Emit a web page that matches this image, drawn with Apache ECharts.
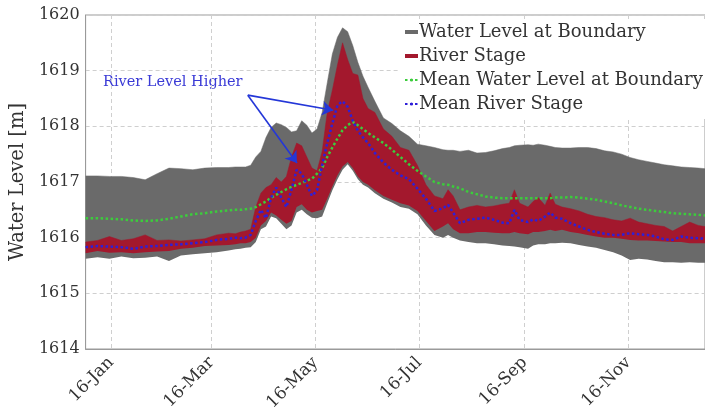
<!DOCTYPE html>
<html>
<head>
<meta charset="utf-8">
<script src="https://cdn.jsdelivr.net/npm/echarts@6/dist/echarts.min.js"></script>
<style>html,body{margin:0;padding:0;background:#fff;}#c{width:705px;height:414px;}</style>
</head>
<body>
<div id="c"></div>
<script>
// Day of year (Jan 1 = 0)
var days = [0,7,14,21,28,35,42,49,56,63,70,77,84,88,91,94,97,100,103,106,109,112,115,118,121,124,127,130,133,136,139,142,145,148,151,154,157,160,163,166,170,175,180,185,190,195,200,205,210,213,216,220,225,230,235,240,245,249,252,255,260,263,266,270,273,276,280,285,290,295,300,305,310,315,320,325,330,335,340,345,350,355,360,364];

var boundaryMax = [1617.11,1617.11,1617.10,1617.10,1617.08,1617.04,1617.15,1617.25,1617.24,1617.22,1617.25,1617.26,1617.26,1617.27,1617.27,1617.27,1617.30,1617.45,1617.55,1617.80,1617.98,1618.06,1618.03,1617.98,1617.90,1617.92,1618.10,1618.02,1617.88,1617.95,1618.25,1618.78,1619.30,1619.60,1619.77,1619.70,1619.45,1619.15,1618.90,1618.70,1618.45,1618.15,1618.05,1617.92,1617.82,1617.68,1617.65,1617.62,1617.58,1617.57,1617.57,1617.55,1617.57,1617.52,1617.53,1617.56,1617.60,1617.62,1617.65,1617.66,1617.67,1617.66,1617.68,1617.66,1617.64,1617.62,1617.61,1617.61,1617.62,1617.62,1617.60,1617.56,1617.54,1617.50,1617.44,1617.40,1617.37,1617.34,1617.31,1617.29,1617.27,1617.26,1617.25,1617.24];

var boundaryMin = [1615.62,1615.65,1615.62,1615.66,1615.63,1615.64,1615.66,1615.58,1615.68,1615.70,1615.72,1615.74,1615.77,1615.79,1615.80,1615.82,1615.83,1615.92,1616.15,1616.20,1616.38,1616.35,1616.25,1616.15,1616.22,1616.45,1616.50,1616.42,1616.36,1616.35,1616.38,1616.62,1616.85,1617.05,1617.22,1617.32,1617.20,1617.05,1616.95,1616.90,1616.80,1616.70,1616.63,1616.55,1616.52,1616.42,1616.22,1616.05,1616.00,1616.05,1616.00,1615.95,1615.92,1615.90,1615.90,1615.88,1615.86,1615.85,1615.84,1615.83,1615.80,1615.86,1615.88,1615.88,1615.90,1615.90,1615.91,1615.90,1615.87,1615.84,1615.82,1615.78,1615.74,1615.68,1615.60,1615.62,1615.61,1615.58,1615.56,1615.56,1615.55,1615.56,1615.55,1615.55];

var riverMax = [1615.92,1615.95,1616.02,1615.95,1615.98,1616.05,1615.95,1615.96,1615.94,1615.96,1615.98,1616.05,1616.08,1616.07,1616.10,1616.12,1616.15,1616.55,1616.80,1616.90,1616.95,1617.08,1617.00,1617.10,1617.45,1617.70,1617.65,1617.45,1617.25,1617.20,1617.55,1618.25,1618.65,1619.10,1619.50,1619.20,1618.95,1618.92,1618.50,1618.32,1618.25,1617.95,1617.82,1617.62,1617.57,1617.30,1616.95,1616.75,1616.70,1616.86,1616.75,1616.50,1616.55,1616.58,1616.55,1616.57,1616.60,1616.62,1616.86,1616.62,1616.55,1616.65,1616.72,1616.58,1616.80,1616.60,1616.55,1616.52,1616.48,1616.42,1616.38,1616.36,1616.32,1616.30,1616.35,1616.28,1616.25,1616.22,1616.20,1616.12,1616.20,1616.28,1616.22,1616.20];

var riverMin = [1615.72,1615.76,1615.73,1615.74,1615.72,1615.74,1615.75,1615.76,1615.80,1615.82,1615.85,1615.86,1615.87,1615.88,1615.90,1615.90,1615.92,1616.00,1616.22,1616.30,1616.45,1616.40,1616.32,1616.25,1616.30,1616.55,1616.60,1616.50,1616.45,1616.48,1616.50,1616.70,1616.92,1617.12,1617.28,1617.36,1617.25,1617.10,1617.00,1616.95,1616.85,1616.75,1616.68,1616.62,1616.58,1616.48,1616.30,1616.12,1616.20,1616.26,1616.15,1616.08,1616.08,1616.10,1616.10,1616.09,1616.08,1616.08,1616.10,1616.08,1616.06,1616.10,1616.10,1616.12,1616.14,1616.12,1616.14,1616.10,1616.08,1616.05,1616.02,1616.00,1616.00,1615.98,1615.96,1615.95,1615.95,1615.94,1615.93,1615.92,1615.92,1615.90,1615.90,1615.90];

var meanBoundary = [1616.35,1616.35,1616.34,1616.33,1616.31,1616.30,1616.31,1616.34,1616.38,1616.42,1616.44,1616.47,1616.49,1616.50,1616.50,1616.51,1616.52,1616.55,1616.60,1616.65,1616.72,1616.77,1616.82,1616.87,1616.91,1616.95,1616.98,1617.02,1617.06,1617.15,1617.25,1617.45,1617.62,1617.78,1617.93,1618.02,1618.08,1618.02,1617.95,1617.88,1617.80,1617.70,1617.58,1617.45,1617.32,1617.20,1617.10,1617.00,1616.96,1616.95,1616.92,1616.89,1616.82,1616.78,1616.74,1616.72,1616.71,1616.71,1616.71,1616.71,1616.71,1616.71,1616.71,1616.71,1616.71,1616.72,1616.72,1616.73,1616.72,1616.70,1616.68,1616.65,1616.62,1616.58,1616.55,1616.52,1616.50,1616.48,1616.46,1616.44,1616.43,1616.42,1616.41,1616.40];

var meanRiver = [1615.83,1615.85,1615.84,1615.83,1615.80,1615.84,1615.85,1615.87,1615.88,1615.90,1615.92,1615.96,1615.98,1616.00,1615.99,1616.00,1616.05,1616.30,1616.50,1616.35,1616.72,1616.90,1616.72,1616.55,1616.86,1617.22,1617.15,1616.95,1616.75,1616.85,1617.30,1617.70,1618.05,1618.38,1618.45,1618.35,1618.10,1617.92,1617.80,1617.70,1617.52,1617.35,1617.22,1617.12,1617.05,1616.88,1616.70,1616.48,1616.53,1616.59,1616.45,1616.26,1616.32,1616.34,1616.36,1616.32,1616.27,1616.26,1616.50,1616.32,1616.28,1616.33,1616.30,1616.38,1616.45,1616.36,1616.34,1616.26,1616.20,1616.14,1616.10,1616.07,1616.05,1616.05,1616.08,1616.06,1616.05,1616.02,1615.97,1615.96,1616.02,1616.00,1615.99,1615.98];

var tickDays = [15,74,135,196,258,319];
var tickLabels = ['16-Jan','16-Mar','16-May','16-Jul','16-Sep','16-Nov'];

// annotation arrow endpoints [day, level]
var arrowStart = [95.3, 1618.56];
var arrowTips = [[124.2, 1617.34], [145.5, 1618.29]];
var annotationText = 'River Level Higher';

var FONT = 'DejaVu Serif';
function pairs(arr){ return days.map(function(d,i){ return [d, arr[i]]; }); }
// for stacked series: [value, day] so the value dimension comes first (stacked), day is x
function stackBase(arr){ return days.map(function(d,i){ return [arr[i], d]; }); }
function stackDiff(hi, lo){ return days.map(function(d,i){ return [+(hi[i]-lo[i]).toFixed(3), d]; }); }

var GRAY = '#6a6a6a', RED = '#a3182d', GREEN = '#3ccc3c', BLUE = '#2e1fd8';
var ENC = { x: 1, y: 0 };

var chart = echarts.init(document.getElementById('c'), null, {renderer:'canvas'});
chart.setOption({
  animation: false,
  backgroundColor: '#fff',
  grid: { left: 82, right: -7, top: 15, bottom: 65, show: true, borderColor: '#9a9a9a', borderWidth: 1, containLabel: false },
  legend: {
    orient: 'vertical', left: 400, top: 19,
    backgroundColor: '#fff', padding: [4, 6, 6, 4],
    itemWidth: 13, itemHeight: 4, itemGap: 6,
    textStyle: { fontFamily: FONT, fontSize: 18, color: '#333', padding: [0,0,0,-4] },
    data: [
      { name: 'Water Level at Boundary', icon: 'rect', itemStyle: { color: GRAY } },
      { name: 'River Stage', icon: 'rect', itemStyle: { color: RED } },
      { name: 'Mean Water Level at Boundary' },
      { name: 'Mean River Stage' }
    ]
  },
  xAxis: {
    type: 'value', min: 0, max: 364,
    axisLine: { show: true, lineStyle: { color: '#9a9a9a' } },
    axisTick: { show: false, customValues: tickDays },
    splitLine: { show: true, lineStyle: { color: '#cfcfcf', type: [4,3] } },
    axisLabel: {
      customValues: tickDays, rotate: 45, margin: 11,
      fontFamily: FONT, fontSize: 17, color: '#333',
      formatter: function(v){ var i = tickDays.indexOf(v); return i >= 0 ? tickLabels[i] : ''; }
    }
  },
  yAxis: {
    type: 'value', min: 1614, max: 1620, interval: 1,
    name: 'Water Level [m]', nameLocation: 'middle', nameGap: 46,
    nameTextStyle: { fontFamily: FONT, fontSize: 19.5, color: '#333' },
    axisLine: { show: true, lineStyle: { color: '#9a9a9a' } },
    axisTick: { show: false },
    splitLine: { show: true, lineStyle: { color: '#cfcfcf', type: [4,3] } },
    axisLabel: { fontFamily: FONT, fontSize: 16, color: '#333', margin: 6,
      formatter: function(v){ return String(v); } }
  },
  graphic: [
    { type: 'text', left: 103, top: 75, silent: true,
      style: { text: annotationText, fontFamily: FONT, fontSize: 14.5, fill: '#3a3ad6' } }
  ],
  series: [
    { name: 'gbBase', type: 'line', stack: 'gray', data: stackBase(boundaryMin), encode: ENC, symbol: 'none', silent: true,
      lineStyle: { width: 0, opacity: 0 } },
    { name: 'Water Level at Boundary', type: 'line', stack: 'gray', data: stackDiff(boundaryMax, boundaryMin), encode: ENC, symbol: 'none',
      lineStyle: { width: 0.5, color: GRAY }, itemStyle: { color: GRAY }, areaStyle: { color: GRAY, opacity: 1 } },
    { name: 'rbBase', type: 'line', stack: 'red', data: stackBase(riverMin), encode: ENC, symbol: 'none', silent: true,
      lineStyle: { width: 0, opacity: 0 } },
    { name: 'River Stage', type: 'line', stack: 'red', data: stackDiff(riverMax, riverMin), encode: ENC, symbol: 'none',
      lineStyle: { width: 0.5, color: RED }, itemStyle: { color: RED }, areaStyle: { color: RED, opacity: 1 } },
    { name: 'Mean Water Level at Boundary', type: 'line', data: pairs(meanBoundary), symbol: 'none',
      itemStyle: { color: GREEN }, lineStyle: { color: GREEN, width: 2.5, type: [2.5, 2.5] } },
    { name: 'Mean River Stage', type: 'line', data: pairs(meanRiver), symbol: 'none',
      itemStyle: { color: BLUE }, lineStyle: { color: BLUE, width: 2.5, type: [2.5, 2.5] },
      markLine: {
        silent: true, symbol: ['none', 'arrow'], symbolSize: 11,
        lineStyle: { color: '#2437d8', width: 1.6, type: 'solid' }, label: { show: false },
        data: arrowTips.map(function(p){ return [{ coord: arrowStart }, { coord: p }]; })
      } }
  ]
});
</script>
</body>
</html>
